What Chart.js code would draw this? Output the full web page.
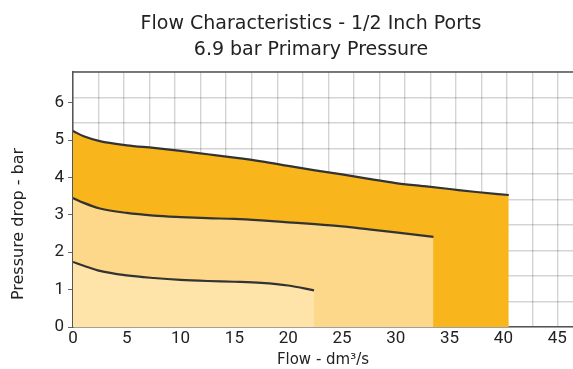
<!DOCTYPE html>
<html>
<head>
<meta charset="utf-8">
<script src="https://cdn.jsdelivr.net/npm/chart.js@4"></script>
<style>
    html, body { margin: 0; padding: 0; background: #fff; }
    #wrap { width: 573px; height: 369px; }
</style>
</head>
<body>
<div id="wrap"><canvas id="flowChart" width="573" height="369"></canvas></div>
<script>
// Chart data
const titleLines = ['Flow Characteristics - 1/2 Inch Ports', '6.9 bar Primary Pressure'];
const xTitle = 'Flow - dm\u00b3/s';
const yTitle = 'Pressure drop - bar';

const xTickValues = [0, 5, 10, 15, 20, 25, 30, 35, 40, 45];
const yTickValues = [0, 1, 2, 3, 4, 5, 6];

// upper curve (darkest region)
const highFlow = [0, 1, 2.5, 5, 7.5, 10, 12.5, 15, 17.5, 20, 22.5, 25, 27.5, 30, 32.5, 35, 37.5, 40.5];
const highDrop = [5.24, 5.10, 4.97, 4.86, 4.79, 4.71, 4.62, 4.53, 4.43, 4.31, 4.19, 4.08, 3.96, 3.85, 3.77, 3.69, 3.61, 3.53];

// middle curve
const midFlow = [0, 1, 2.5, 5, 7.5, 10, 12.5, 15, 17.5, 20, 22.5, 25, 27.5, 30, 33.5];
const midDrop = [3.45, 3.32, 3.17, 3.05, 2.98, 2.94, 2.91, 2.89, 2.85, 2.80, 2.75, 2.69, 2.61, 2.53, 2.41];

// lower curve
const lowFlow = [0, 1, 2.5, 5, 7.5, 10, 12.5, 15, 17.5, 20, 22.4];
const lowDrop = [1.74, 1.64, 1.50, 1.38, 1.31, 1.26, 1.23, 1.21, 1.18, 1.11, 0.98];

const xMax = 46.47;
const yMax = 6.82;
const xGridStep = 2.373;
const yGridStep = 0.682;

function toPoints(xs, ys) {
    return xs.map((x, i) => ({ x: x, y: ys[i] }));
}

function stepTicks(max, step) {
    const out = [];
    for (let v = 0; v <= max + 1e-6; v += step) out.push({ value: v });
    return out;
}

const lineColor = '#333';
const textColor = '#222';
const textFont = '"DejaVu Sans"';
const gridColor = 'rgba(0,0,0,0.17)';

// title, y-axis title and the top frame line
const overlayPlugin = {
    id: 'overlay',
    afterDraw(chart) {
        const ctx = chart.ctx;
        const area = chart.chartArea;
        ctx.save();
        ctx.fillStyle = textColor;
        ctx.font = '19px ' + textFont;
        ctx.textAlign = 'center';
        ctx.textBaseline = 'alphabetic';
        ctx.fillText(titleLines[0], 311, 29);
        ctx.fillText(titleLines[1], 311, 55);

        ctx.font = '16px ' + textFont;
        ctx.translate(19, 224);
        ctx.rotate(-Math.PI / 2);
        ctx.textBaseline = 'middle';
        ctx.fillText(yTitle, 0, 0);
        ctx.restore();

        ctx.save();
        ctx.strokeStyle = '#555';
        ctx.lineWidth = 1.5;
        ctx.beginPath();
        ctx.moveTo(area.left, area.top);
        ctx.lineTo(area.right, area.top);
        ctx.stroke();
        ctx.restore();
    }
};

function curveDataset(label, xs, ys, fillColor) {
    return {
        label: label,
        data: toPoints(xs, ys),
        borderColor: lineColor,
        borderWidth: 2.2,
        backgroundColor: fillColor,
        fill: 'origin',
        pointRadius: 0,
        cubicInterpolationMode: 'monotone'
    };
}

const ctx = document.getElementById('flowChart').getContext('2d');

new Chart(ctx, {
    type: 'line',
    data: {
        datasets: [
            curveDataset('low', lowFlow, lowDrop, '#fee4a9'),
            curveDataset('mid', midFlow, midDrop, '#fdd78a'),
            curveDataset('high', highFlow, highDrop, '#f8b51c')
        ]
    },
    options: {
        responsive: false,
        animation: false,
        layout: {
            padding: { top: 72, left: 0, right: 0, bottom: 0 }
        },
        plugins: {
            legend: { display: false },
            title: { display: false },
            tooltip: { enabled: false }
        },
        scales: {
            x: {
                type: 'linear',
                min: 0,
                max: xMax,
                afterBuildTicks: (scale) => { scale.ticks = xTickValues.map(v => ({ value: v })); },
                afterFit: (scale) => { scale.height = 42; },
                ticks: {
                    color: textColor,
                    font: { family: 'Roboto', size: 17 },
                    padding: 2,
                    maxRotation: 0
                },
                grid: { display: false, drawTicks: false },
                border: { display: true, color: '#555', width: 1.5 },
                title: {
                    display: true,
                    text: xTitle,
                    color: textColor,
                    font: { family: 'DejaVu Sans', size: 15 },
                    padding: { top: 0, bottom: 0 }
                }
            },
            y: {
                type: 'linear',
                min: 0,
                max: yMax,
                afterBuildTicks: (scale) => { scale.ticks = yTickValues.map(v => ({ value: v })); },
                afterFit: (scale) => { scale.width = 73; },
                ticks: {
                    color: textColor,
                    font: { family: 'Roboto', size: 17 },
                    padding: 4
                },
                grid: {
                    drawOnChartArea: false,
                    drawTicks: true,
                    tickLength: 5,
                    tickColor: '#666'
                },
                border: { display: true, color: '#555', width: 1.5 }
            },
            xGrid: {
                type: 'linear',
                position: 'bottom',
                min: 0,
                max: xMax,
                z: 1,
                afterBuildTicks: (scale) => { scale.ticks = stepTicks(xMax, xGridStep); },
                afterFit: (scale) => { scale.height = 0; },
                ticks: { display: false },
                grid: { color: gridColor, lineWidth: 1.4, drawTicks: false },
                border: { display: false }
            },
            yGrid: {
                type: 'linear',
                position: 'left',
                min: 0,
                max: yMax,
                z: 1,
                afterBuildTicks: (scale) => { scale.ticks = stepTicks(yMax, yGridStep); },
                afterFit: (scale) => { scale.width = 0; },
                ticks: { display: false },
                grid: { color: gridColor, lineWidth: 1.4, drawTicks: false },
                border: { display: false }
            }
        }
    },
    plugins: [overlayPlugin]
});
</script>
</body>
</html>
